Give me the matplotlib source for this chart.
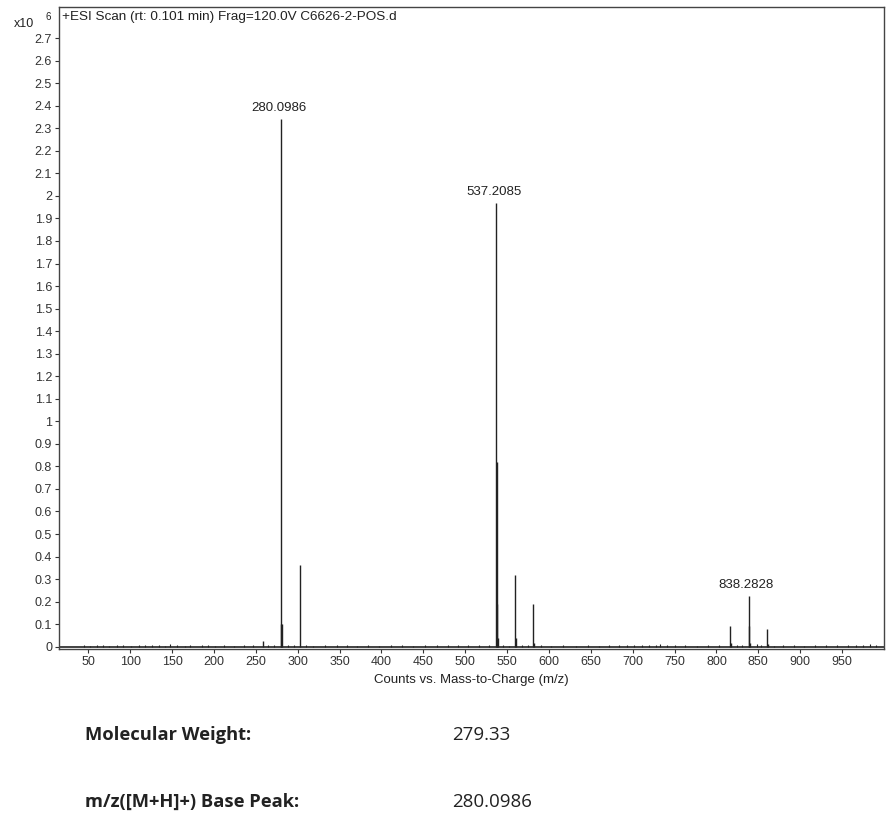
import numpy as np
import matplotlib.pyplot as plt

# main peaks (m/z, counts x10^6)
peak_mz = [258.1, 280.0986, 280.6, 281.1, 302.6, 537.2085, 537.6, 538.2, 539.2,
           559.2, 560.2, 581.2, 582.2, 816.3, 817.3, 838.2828, 839.3, 840.3, 860.3, 861.3]
peak_int = [0.025, 2.34, 0.10, 0.10, 0.364, 1.97, 0.82, 0.19, 0.04,
            0.32, 0.04, 0.19, 0.015, 0.09, 0.015, 0.225, 0.09, 0.015, 0.08, 0.012]

# baseline noise picked off the trace
noise_mz = [45, 52, 60, 68, 75, 84, 92, 101, 110, 118, 126, 134, 142, 148, 156, 165,
            172, 186, 193, 201, 212, 224, 236, 247, 265, 272, 289, 296, 310, 318, 333,
            347, 359, 371, 384, 397, 411, 425, 438, 452, 466, 479, 491, 503, 516, 528,
            545, 552, 568, 575, 590, 603, 617, 632, 646, 660, 672, 684, 693, 702, 711,
            719, 728, 733, 741, 750, 763, 777, 790, 803, 824, 830, 848, 853, 869, 880,
            893, 905, 918, 931, 944, 957, 966, 975, 983, 991]
noise_int = [0.006, 0.005, 0.007, 0.006, 0.005, 0.006, 0.008, 0.005, 0.006, 0.007,
             0.009, 0.006, 0.005, 0.012, 0.006, 0.005, 0.007, 0.008, 0.006, 0.005,
             0.006, 0.005, 0.006, 0.007, 0.006, 0.008, 0.006, 0.009, 0.007, 0.005,
             0.006, 0.007, 0.009, 0.005, 0.006, 0.005, 0.006, 0.008, 0.005, 0.006,
             0.007, 0.006, 0.008, 0.007, 0.009, 0.006, 0.007, 0.005, 0.006, 0.008,
             0.006, 0.005, 0.006, 0.005, 0.006, 0.005, 0.007, 0.006, 0.009, 0.008,
             0.007, 0.009, 0.008, 0.014, 0.008, 0.006, 0.007, 0.005, 0.006, 0.007,
             0.009, 0.007, 0.010, 0.006, 0.005, 0.006, 0.007, 0.005, 0.006, 0.008,
             0.007, 0.006, 0.008, 0.009, 0.010, 0.008]

label_mz = [280.0986, 537.2085, 838.2828]
label_int = [2.34, 1.97, 0.225]

x_ticks = np.arange(50, 1000, 50)
y_ticks = np.round(np.arange(0, 2.75, 0.1), 1)

info_labels = ['Molecular Weight:', 'm/z([M+H]+) Base Peak:']
info_values = ['279.33', '280.0986']

plt.rcParams['font.family'] = ['Liberation Sans', 'DejaVu Sans']
fig = plt.figure(figsize=(8.93, 8.21), dpi=100)
ax = fig.add_axes([59 / 893, 1 - 649 / 821, 825 / 893, 642 / 821])

ax.vlines(noise_mz, 0, noise_int, color='#222222', lw=0.8)
ax.vlines(peak_mz, 0, peak_int, color='#222222', lw=1.0)
ax.axhline(0, color='#222222', lw=1.2)

for mz, h in zip(label_mz, label_int):
    ax.text(mz - 3, h + 0.022, f'{mz:.4f}', ha='center', va='bottom', fontsize=9.5, color='#222222')

ax.set_xlim(15, 1000)
ax.set_ylim(-0.01, 2.838)
ax.set_xticks(x_ticks)
ax.set_yticks(y_ticks)
ax.set_yticklabels([f'{v:g}' for v in y_ticks])
ax.tick_params(axis='both', labelsize=9, colors='#333333', length=3, width=0.8, pad=2)
for s in ax.spines.values():
    s.set_color('#444444')
    s.set_linewidth(1.0)
ax.set_xlabel('Counts vs. Mass-to-Charge (m/z)', fontsize=9.5, color='#222222', labelpad=4)

ax.text(0.004, 0.993, '+ESI Scan (rt: 0.101 min) Frag=120.0V C6626-2-POS.d', transform=ax.transAxes,
        ha='left', va='top', fontsize=9.7, color='#222222')
fig.text(14 / 893, 1 - 30 / 821, 'x10', fontsize=9, color='#222222', va='bottom')
fig.text(45 / 893, 1 - 22 / 821, '6', fontsize=7, color='#222222', va='bottom')

for i, (lab, val) in enumerate(zip(info_labels, info_values)):
    y = 1 - (735 + 67 * i) / 821
    fig.text(85 / 893, y, lab, fontsize=13.2, fontweight='bold', family='Open Sans', color='#222222', va='center')
    fig.text(452 / 893, y, val, fontsize=13.5, family='Open Sans', color='#222222', va='center')

fig.savefig('out.png', dpi=100)
